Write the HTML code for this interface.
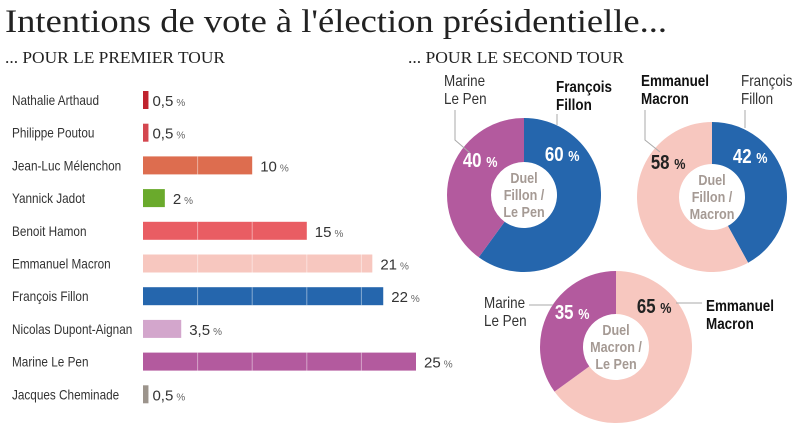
<!DOCTYPE html>
<html><head><meta charset="utf-8">
<style>
html,body{margin:0;padding:0;background:#fff;}
svg{display:block;}
.nm{font-family:"Liberation Sans",sans-serif;font-size:14px;fill:#333;}
.val{font-family:"Liberation Sans",sans-serif;font-size:15px;fill:#333;}
.pct{font-size:10px;fill:#666;}
.lbl{font-family:"Liberation Sans",sans-serif;font-size:16px;fill:#333;}
.bold{font-weight:bold;fill:#111;}
.big{font-family:"Liberation Sans",sans-serif;font-weight:bold;font-size:20px;}
.ctr{font-family:"Liberation Sans",sans-serif;font-weight:bold;font-size:15px;fill:#a59a94;}
</style></head>
<body>
<svg id="chart" width="792" height="435" xmlns="http://www.w3.org/2000/svg">
  <text x="5" y="32" font-family="Liberation Serif, serif" font-size="33" fill="#222" textLength="662" lengthAdjust="spacingAndGlyphs">Intentions de vote à l'élection présidentielle...</text>
  <text x="5" y="63" font-family="Liberation Serif, serif" font-size="17" fill="#222" textLength="220" lengthAdjust="spacingAndGlyphs">... POUR LE PREMIER TOUR</text>
  <text x="408" y="63" font-family="Liberation Serif, serif" font-size="17" fill="#222" textLength="216" lengthAdjust="spacingAndGlyphs">... POUR LE SECOND TOUR</text>
  <g id="bars"></g>
  <g id="donuts"></g>
</svg>
<script>
const candidates = ["Nathalie Arthaud","Philippe Poutou","Jean-Luc Mélenchon","Yannick Jadot","Benoit Hamon","Emmanuel Macron","François Fillon","Nicolas Dupont-Aignan","Marine Le Pen","Jacques Cheminade"];
const firstRound = [0.5,0.5,10,2,15,21,22,3.5,25,0.5];
const valueLabels = ["0,5","0,5","10","2","15","21","22","3,5","25","0,5"];
const barColors = ["#c0232e","#d4474f","#dd6d4f","#6aaa2c","#e95d63","#f7c7bf","#2566ad","#d3a6cc","#b35a9e","#9c948c"];

const duelA = [60,40];   // Fillon / Le Pen
const duelB = [42,58];   // Fillon / Macron
const duelC = [65,35];   // Macron / Le Pen

const NS="http://www.w3.org/2000/svg";
function mk(tag,attrs,parent){const e=document.createElementNS(NS,tag);for(const k in attrs)e.setAttribute(k,attrs[k]);parent.appendChild(e);return e;}
const narrow=[];

// bar axis
const x0=143, pxPer=10.92;
const xScale=v=>v*pxPer;
const rowY=i=>100+i*32.7;
const bars=document.getElementById('bars');
candidates.forEach((c,i)=>{
  const y=rowY(i);
  const t=mk('text',{x:12,y:y+5,class:'nm'},bars);
  t.textContent=c;
  
  
  narrow.push(t);
  const w=Math.max(5,xScale(firstRound[i]));
  const r=mk('rect',{x:x0,y:y-9,width:w,height:18,fill:barColors[i]},bars);
  
  
  for(let g=5;g<firstRound[i];g+=5){
    const l=mk('line',{x1:x0+xScale(g),x2:x0+xScale(g),y1:y-9,y2:y+9,stroke:'rgba(255,255,255,0.45)','stroke-width':1},bars);
    
    
  }
  const v=mk('text',{x:x0+w+(w<10?4:8),y:y+6,class:'val'},bars);
  
  
  v.appendChild(document.createTextNode(valueLabels[i]));
  const s=mk('tspan',{class:'pct',dx:3},v); s.textContent='%';
});

// donuts
const donuts=document.getElementById('donuts');
function arcPath(cx,cy,R,r,a0,a1){
  const p=(rad,a)=>[cx+rad*Math.sin(a),cy-rad*Math.cos(a)];
  const large=(a1-a0)>Math.PI?1:0;
  const [x1,y1]=p(R,a0),[x2,y2]=p(R,a1),[x3,y3]=p(r,a1),[x4,y4]=p(r,a0);
  return `M${x1},${y1}A${R},${R} 0 ${large} 1 ${x2},${y2}L${x3},${y3}A${r},${r} 0 ${large} 0 ${x4},${y4}Z`;
}
function donut(name,cx,cy,R,r,vals,colors,pctColors,center){
  const g=mk('g',{},donuts);
  
  
  const total=vals.reduce((a,b)=>a+b,0);
  let a=0;
  vals.forEach((v,i)=>{
    const a1=a+v/total*2*Math.PI;
    const p=mk('path',{d:arcPath(cx,cy,R,r,a,a1),fill:colors[i]},g);
    
    
    a=a1;
  });
  vals.forEach((v,i)=>{
    const half=v/total*Math.PI;
    const ang=i===0? Math.min(half,0.75) : -Math.min(half,0.9);
    const lr=56;
    const tx=cx+lr*Math.sin(ang), ty=cy-lr*Math.cos(ang)+7;
    const t=mk('text',{x:tx,y:ty,'text-anchor':'middle',class:'big',fill:pctColors[i]},g);
    
    
    t.appendChild(document.createTextNode(v+' '));
    const s=mk('tspan',{'font-size':'15'},t); s.textContent='%';
    narrow.push(t);
  });
  center.forEach((line,k)=>{
    const t=mk('text',{x:cx,y:cy-12+k*17,'text-anchor':'middle',class:'ctr'},g);
    t.textContent=line;
    
    
    narrow.push(t);
  });
}
donut('duel-fillon-lepen',524,195,77,33,duelA,['#2566ad','#b35a9e'],['#fff','#fff'],['Duel','Fillon /','Le Pen']);
donut('duel-fillon-macron',712,197,75,33,duelB,['#2566ad','#f7c7bf'],['#fff','#222'],['Duel','Fillon /','Macron']);
donut('duel-macron-lepen',616,347,76,33,duelC,['#f7c7bf','#b35a9e'],['#222','#fff'],['Duel','Macron /','Le Pen']);

const labels=[
  [444,86,'Marine',false],[444,104,'Le Pen',false],
  [556,92,'François',true],[556,110,'Fillon',true],
  [641,86,'Emmanuel',true],[641,104,'Macron',true],
  [741,86,'François',false],[741,104,'Fillon',false],
  [484,308,'Marine',false],[484,326,'Le Pen',false],
  [706,311,'Emmanuel',true],[706,329,'Macron',true]
];
labels.forEach(l=>{
  const t=mk('text',{x:l[0],y:l[1],class:'lbl'+(l[3]?' bold':'')},donuts);
  t.textContent=l[2];
  
  
  narrow.push(t);
});
const leaders=[[455,110,455,140,470,153],[557,114,557,122,557,125],[645,110,645,140,660,152],[745,110,745,125,745,128],[529,305,545,305,553,305],[676,303,700,303,702,303]];
leaders.forEach(p=>{
  const l=mk('polyline',{points:`${p[0]},${p[1]} ${p[2]},${p[3]} ${p[4]},${p[5]}`,fill:'none',stroke:'#aaa','stroke-width':1},donuts);
  
  
});
// condense text to mimic a narrow font
narrow.forEach(t=>{
  const w=t.getComputedTextLength();
  if(w>0){t.setAttribute('textLength',(w*0.84).toFixed(1));t.setAttribute('lengthAdjust','spacingAndGlyphs');}
});
</script>
</body></html>
